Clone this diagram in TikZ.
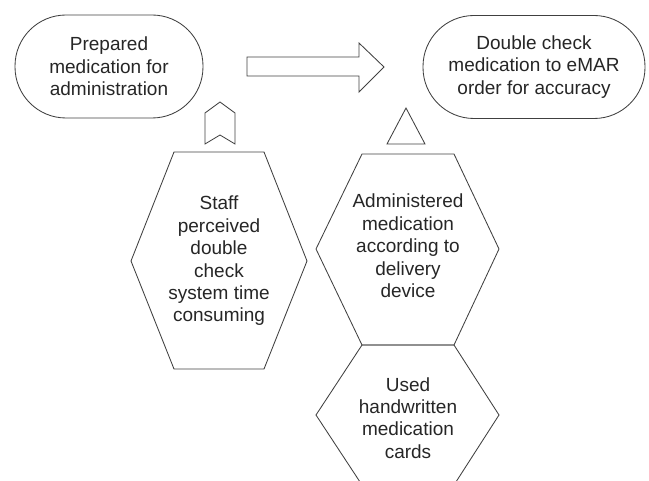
\documentclass[tikz,border=0pt]{standalone}
\usepackage{fontspec}
\setmainfont{Liberation Sans}
\begin{document}
\begin{tikzpicture}[x=1pt,y=-1pt,
  ln/.style={draw=black!75,line width=0.85pt,line join=miter},
  txt/.style={align=center,inner sep=0pt,font=\fontsize{19}{22.4}\selectfont,text=black!85},
  stadium/.style={ln,txt,rectangle,rounded corners=51pt,minimum height=103pt}]
\useasboundingbox (0,0) rectangle (649,481);
\clip (0,0) rectangle (649,481);
% top terminals
\node[stadium,minimum width=188pt] (prep) at (109,66.5) {Prepared\\medication for\\administration};
\node[stadium,minimum width=222pt] (dbl) at (534,67) {Double check\\medication to eMAR\\order for accuracy};
% block arrow between them
\coordinate (a1) at (247,57);
\draw[ln] (a1) -- (359,57) -- (359,43) -- (384,67) -- (359,92) -- (359,76) -- (247,76) -- cycle;
% chevron
\coordinate (chev) at (220,102);
\draw[ln] (chev) -- (235,113) -- (235,144) -- (220,135) -- (205,144) -- (205,113) -- cycle;
% triangle
\coordinate (tri) at (406,108);
\draw[ln] (tri) -- (425,144) -- (387,144) -- cycle;
% hexagons
\node[txt] (staff) at (219,261) {Staff\\perceived\\double\\check\\system time\\consuming};
\draw[ln] (174,152) -- (264,152) -- (307,261) -- (264,369) -- (174,369) -- (131,261) -- cycle;
\node[txt] (admin) at (408,246) {Administered\\medication\\according to\\delivery\\device};
\draw[ln] (362,154) -- (454,154) -- (499,249) -- (454,345) -- (362,345) -- (316,249) -- cycle;
\node[txt] (used) at (408,418) {Used\\handwritten\\medication\\cards};
\draw[ln] (362,345) -- (454,345) -- (499,415) -- (454,485) -- (362,485) -- (316,415) -- cycle;
\end{tikzpicture}
\end{document}
